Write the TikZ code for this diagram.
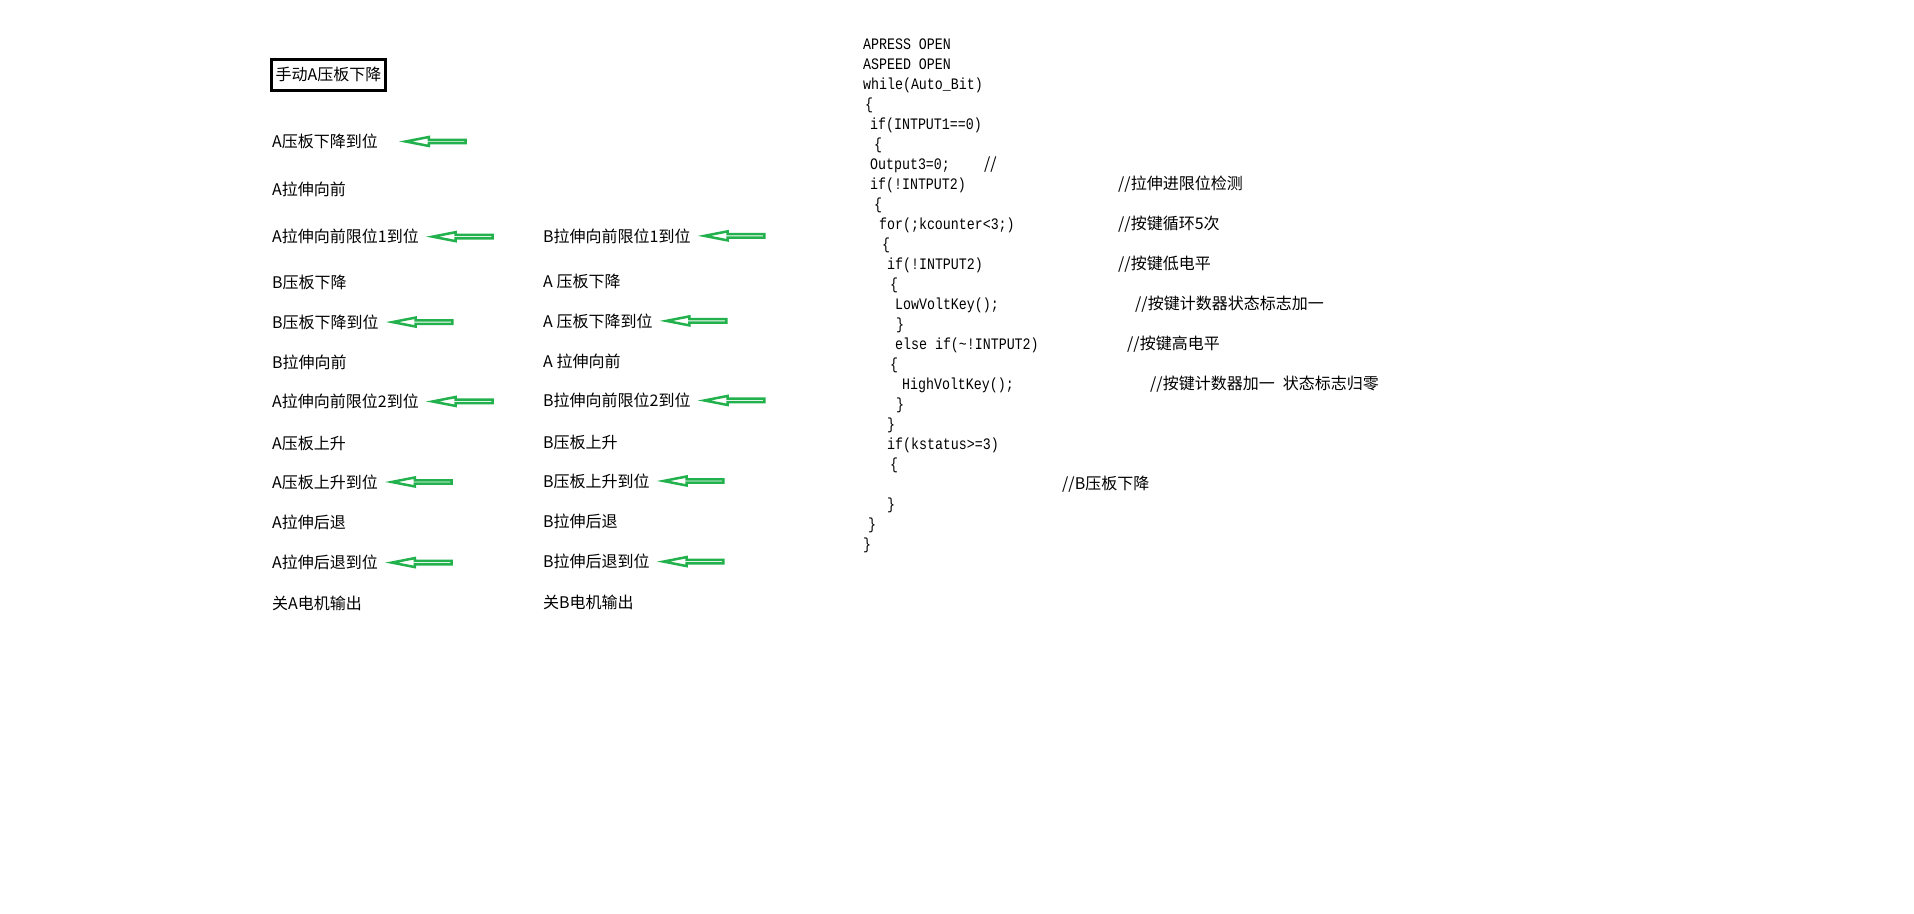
\documentclass[tikz,border=0pt]{standalone}
\usepackage{fontspec}
\setmainfont{Noto Sans CJK SC}
\newfontfamily\codefont[FakeStretch=0.83]{Liberation Mono}
\usetikzlibrary{positioning,shapes.arrows}
\definecolor{arrowgreen}{RGB}{34,177,76}
\tikzset{
  steptext/.style={anchor=base west, inner sep=0pt, font=\fontsize{16}{16}\selectfont},
  codeline/.style={anchor=base west, inner sep=0pt, font=\codefont\fontsize{16}{16}\selectfont},
  titlebox/.style={draw, line width=3pt, minimum width=114pt, minimum height=31pt, inner sep=0pt, font=\fontsize{16}{16}\selectfont},
  backarrow/.style={single arrow, draw=arrowgreen, fill=white, line width=2.5pt, shape border rotate=180,
    minimum height=60pt, minimum width=9pt, single arrow head extend=2pt, single arrow tip angle=22, inner sep=0pt}
}

\begin{document}
\begin{tikzpicture}[x=1pt,y=-1pt]
    \useasboundingbox (0,0) rectangle (1914,913);

    % Title
    \node[titlebox] (title) at (328.5,74.7) {手动A压板下降};

    % Left column: A steps
    \foreach \n/\y/\t in {0/141.6/A压板下降到位, 1/189.2/A拉伸向前, 2/236.8/A拉伸向前限位1到位, 3/282/B压板下降,
        4/322.2/B压板下降到位, 5/362.5/B拉伸向前, 6/401.6/A拉伸向前限位2到位, 7/443/A压板上升,
        8/482.1/A压板上升到位, 9/522.4/A拉伸后退, 10/562.7/A拉伸后退到位, 11/603/关A电机输出}
        \node[steptext] (left\n) at (272,\y+6) {\t};

    % Right column: B steps
    \foreach \n/\y/\t in {2/236/B拉伸向前限位1到位, 3/281/A 压板下降, 4/321/A 压板下降到位, 5/361.5/A 拉伸向前,
        6/400.6/B拉伸向前限位2到位, 7/442/B压板上升, 8/481.1/B压板上升到位, 9/521.4/B拉伸后退,
        10/561.7/B拉伸后退到位, 11/602/关B电机输出}
        \node[steptext] (right\n) at (543,\y+6) {\t};

    % Arrows pointing back at the "reached" steps
    \node[backarrow, right=21pt of left0] (larrow0) {};
    \node[backarrow, right=7pt of left2] (larrow2) {};
    \node[backarrow, right=7pt of left4] (larrow4) {};
    \node[backarrow, right=7pt of left6] (larrow6) {};
    \node[backarrow, right=7pt of left8] (larrow8) {};
    \node[backarrow, right=7pt of left10] (larrow10) {};
    \node[backarrow, right=7pt of right2] (rarrow2) {};
    \node[backarrow, right=7pt of right4] (rarrow4) {};
    \node[backarrow, right=7pt of right6] (rarrow6) {};
    \node[backarrow, right=7pt of right8] (rarrow8) {};
    \node[backarrow, right=7pt of right10] (rarrow10) {};

    % Code listing
    \foreach \i/\x/\t in {0/863/APRESS OPEN, 1/863/ASPEED OPEN, 2/863/while(Auto\_Bit), 3/865/\{,
        4/870/if(INTPUT1==0), 5/874/\{, 6/870/Output3=0;, 7/870/if(!INTPUT2), 8/874/\{,
        9/879/for(;kcounter<3;), 10/882/\{, 11/887/if(!INTPUT2), 12/890/\{, 13/895/LowVoltKey();,
        14/896/\}, 15/895/else if(\textasciitilde!INTPUT2), 16/890/\{, 17/902/HighVoltKey();, 18/896/\},
        19/887/\}, 20/887/if(kstatus>=3), 21/890/\{, 23/887/\}, 24/868/\}, 25/863/\}}
        \node[codeline] (code\i) at (\x,49+20*\i) {\t};

    % Comments
    \foreach \i/\x/\t in {6/984/{//}, 7/1118/{//拉伸进限位检测}, 9/1118/{//按键循环5次}, 11/1118/{//按键低电平},
        13/1135/{//按键计数器状态标志加一}, 15/1127/{//按键高电平},
        17/1150/{//按键计数器加一\hspace{8pt}状态标志归零}, 22/1062/{//B压板下降}}
        \node[steptext] (note\i) at (\x,49+20*\i) {\t};
\end{tikzpicture}
\end{document}
